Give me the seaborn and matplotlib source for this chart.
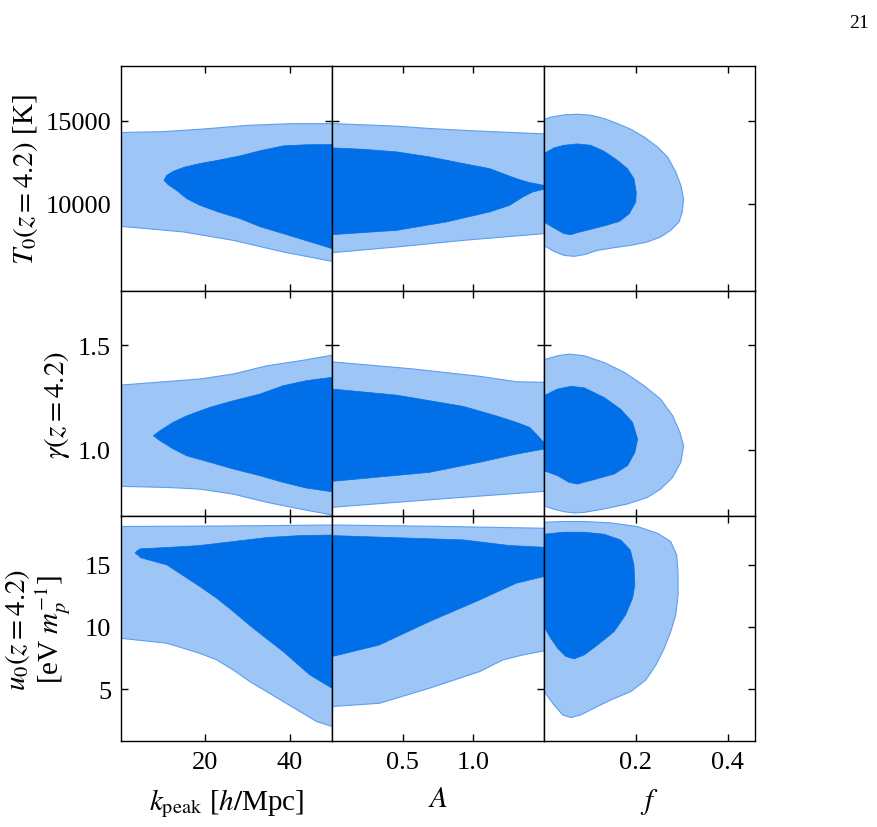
import matplotlib
matplotlib.use("Agg")
import matplotlib.pyplot as plt
import seaborn as sns

# === DATA: 68% / 95% credible-region outlines ===
# columns: k_peak, A, f   rows: T0, gamma, u0
col_labels = [r"$k_{\rm peak}$ [$h/$Mpc]", r"$A$", r"$f$"]
row_labels = [r"$T_0(z=4.2)$ [K]", r"$\gamma(z=4.2)$", "$u_0(z=4.2)$\n[eV $m_p^{-1}$]"]
col_limits = [(0, 50), (0, 1.5), (0, 0.46)]
row_limits = [(4700, 18300), (0.682, 1.757), (0.8, 18.9)]
col_ticks = [[20, 40], [0.5, 1.0], [0.2, 0.4]]
col_ticklabels = [["20", "40"], ["0.5", "1.0"], ["0.2", "0.4"]]
row_ticks = [[10000, 15000], [1.0, 1.5], [5, 10, 15]]
row_ticklabels = [["10000", "15000"], ["1.0", "1.5"], ["5", "10", "15"]]

# T0 vs k_peak
k_T0_outer_x = [-1, 0, 10, 19, 30, 40, 51, 51, 50, 38.4, 26.6, 14.8, 0, -1]
k_T0_outer_y = [14300, 14300, 14350, 14500, 14730, 14830, 14840,
                6450, 6510, 7080, 7780, 8290, 8630, 8630]
k_T0_inner_x = [10.2, 10.9, 12.4, 15, 18.7, 23, 28.2, 33, 38.4, 44, 51,
                51, 50, 44, 38.4, 33, 28.2, 23, 18.7, 15.6, 13.2, 11.2]
k_T0_inner_y = [11410, 11712, 11954, 12200, 12420, 12620, 12885, 13200, 13490, 13560, 13570,
                7250, 7278, 7750, 8185, 8600, 9093, 9500, 9900, 10300, 10805, 11150]

# T0 vs A
A_T0_outer_x = [-0.05, 0, 0.46, 0.69, 1.0, 1.5, 1.55, 1.55, 1.5, 0.93, 0.456, 0, -0.05]
A_T0_outer_y = [14840, 14840, 14680, 14540, 14400, 14216, 14200,
                8190, 8185, 7780, 7380, 7036, 7036]
A_T0_inner_x = [-0.05, 0, 0.22, 0.456, 0.69, 0.93, 1.116, 1.21, 1.305, 1.40, 1.5,
                1.5, 1.423, 1.352, 1.258, 1.116, 0.81, 0.456, 0, -0.05]
A_T0_inner_y = [13370, 13370, 13285, 13128, 12825, 12420, 12117, 11815, 11512, 11270, 11107,
                10866, 10708, 10405, 9897, 9498, 8893, 8385, 8125, 8125]

# T0 vs f
f_T0_outer_x = [-0.01, 0.0, 0.015, 0.044, 0.073, 0.102, 0.131, 0.160, 0.189, 0.218, 0.247,
                0.269, 0.287, 0.298, 0.304, 0.301, 0.294, 0.276, 0.254, 0.225, 0.189,
                0.153, 0.117, 0.088, 0.066, 0.044, 0.022, 0.0, -0.01]
f_T0_outer_y = [15082, 15082, 15223, 15364, 15404, 15344, 15142, 14840, 14497, 14033, 13428,
                12823, 11916, 11109, 10302, 9496, 8891, 8387, 7984, 7681, 7479,
                7338, 7177, 6915, 6814, 6874, 7116, 7479, 7479]
f_T0_inner_x = [-0.01, 0.0, 0.022, 0.044, 0.073, 0.102, 0.131, 0.160, 0.182, 0.196, 0.201,
                0.200, 0.186, 0.165, 0.136, 0.102, 0.073, 0.059, 0.044, 0.022, 0.0, -0.01]
f_T0_inner_y = [13025, 13025, 13368, 13529, 13610, 13529, 13166, 12621, 12117, 11512, 10706,
                10101, 9395, 8931, 8689, 8447, 8246, 8125, 8185, 8528, 8891, 8891]

# gamma vs k_peak
k_g_outer_x = [-1, 0, 18.7, 26.6, 34.5, 42.4, 50, 51, 51, 50, 42.4, 34.5, 26.6, 18.7, 10.9, 0, -1]
k_g_outer_y = [1.309, 1.309, 1.338, 1.362, 1.401, 1.425, 1.452, 1.455,
               0.685, 0.688, 0.717, 0.749, 0.788, 0.812, 0.820, 0.825, 0.825]
k_g_inner_x = [7.7, 9.3, 12.3, 15.6, 21.1, 26.6, 32.9, 38.4, 43.9, 51,
               51, 43.9, 38.4, 32.9, 26.6, 21.1, 15.6, 12.3, 9.3]
k_g_inner_y = [1.067, 1.091, 1.130, 1.162, 1.203, 1.234, 1.266, 1.306, 1.330, 1.349,
               0.796, 0.817, 0.844, 0.876, 0.908, 0.940, 0.971, 1.005, 1.043]

# gamma vs A
A_g_outer_x = [-0.05, 0, 0.574, 1.045, 1.305, 1.5, 1.55, 1.55, 1.5, 0.93, 0.456, 0, -0.05]
A_g_outer_y = [1.420, 1.420, 1.386, 1.351, 1.325, 1.322, 1.322,
               0.801, 0.801, 0.773, 0.749, 0.725, 0.725]
A_g_inner_x = [-0.05, 0, 0.456, 0.93, 1.163, 1.305, 1.40, 1.446, 1.5,
               1.5, 1.305, 1.045, 0.689, 0, -0.05]
A_g_inner_y = [1.29, 1.29, 1.261, 1.207, 1.162, 1.131, 1.107, 1.075, 1.035,
               1.003, 0.979, 0.940, 0.892, 0.849, 0.849]

# gamma vs f
f_g_outer_x = [-0.01, 0.0, 0.030, 0.055, 0.088, 0.131, 0.175, 0.218, 0.254, 0.280, 0.296,
               0.304, 0.298, 0.280, 0.254, 0.225, 0.182, 0.131, 0.088, 0.066, 0.044, 0.022,
               0.0, -0.01]
f_g_outer_y = [1.430, 1.430, 1.449, 1.457, 1.449, 1.417, 1.370, 1.306, 1.242, 1.163, 1.083,
               1.019, 0.940, 0.868, 0.812, 0.772, 0.741, 0.717, 0.701, 0.698, 0.704, 0.716,
               0.732, 0.732]
f_g_inner_x = [-0.01, 0.0, 0.030, 0.059, 0.088, 0.131, 0.167, 0.193, 0.204, 0.198, 0.182,
               0.153, 0.109, 0.073, 0.055, 0.030, 0.0, -0.01]
f_g_inner_y = [1.258, 1.258, 1.290, 1.303, 1.296, 1.250, 1.194, 1.131, 1.051, 0.987, 0.924,
               0.884, 0.857, 0.836, 0.844, 0.876, 0.900, 0.900]

# u0 vs k_peak
k_u_outer_x = [-1, 0, 25, 50, 51, 51, 50, 46.3, 42.4, 38.4, 34.5, 30.5, 26.6, 22.7, 18.7, 10.9, 0, -1]
k_u_outer_y = [18.08, 18.08, 18.12, 18.2, 18.2,
               1.95, 1.99, 2.39, 3.19, 4.0, 4.80, 5.61, 6.54, 7.35, 7.88, 8.69, 9.09, 9.09]
k_u_inner_x = [3.4, 3.8, 4.6, 10.9, 18.7, 26.6, 34.5, 42.4, 51,
               51, 44.7, 38.4, 31.3, 26.6, 22.7, 18.7, 10.9, 4.6, 4.2]
k_u_inner_y = [15.93, 16.11, 16.28, 16.39, 16.55, 16.87, 17.19, 17.35, 17.40,
               4.85, 6.14, 8.02, 9.9, 11.24, 12.31, 13.25, 14.99, 15.58, 15.74]

# u0 vs A
A_u_outer_x = [-0.05, 0, 0.7, 1.5, 1.55, 1.55, 1.5, 1.352, 1.21, 1.045, 0.689, 0.335, 0, -0.05]
A_u_outer_y = [18.2, 18.2, 18.1, 17.94, 17.94, 8.07, 8.07, 7.75, 7.35, 6.41, 5.07, 3.86, 3.6, 3.6]
A_u_inner_x = [-0.05, 0, 0.93, 1.257, 1.5, 1.55, 1.55, 1.5, 1.305, 1.045, 0.689, 0.40, 0.335, 0, -0.05]
A_u_inner_y = [17.35, 17.35, 17.0, 16.55, 16.41, 16.41, 14.05, 14.05, 13.52, 12.17, 10.43, 8.9, 8.55, 7.62, 7.62]

# u0 vs f
f_u_outer_x = [-0.01, 0.0, 0.044, 0.088, 0.146, 0.204, 0.247, 0.276, 0.289, 0.292, 0.292,
               0.287, 0.276, 0.262, 0.244, 0.222, 0.189, 0.146, 0.109, 0.080, 0.059, 0.041,
               0.022, 0.0, -0.01]
f_u_outer_y = [18.42, 18.42, 18.48, 18.48, 18.37, 18.07, 17.54, 16.87, 15.79, 14.19, 12.58,
               10.97, 9.63, 8.29, 6.95, 5.74, 4.80, 4.13, 3.46, 2.92, 2.71, 2.92,
               3.73, 4.85, 4.85]
f_u_inner_x = [-0.01, 0.0, 0.044, 0.088, 0.131, 0.167, 0.188, 0.196, 0.198, 0.193, 0.178,
               0.153, 0.117, 0.088, 0.066, 0.048, 0.030, 0.015, 0.0, -0.01]
f_u_inner_y = [17.46, 17.46, 17.62, 17.62, 17.46, 17.00, 16.20, 14.99, 13.38, 12.31, 10.97,
               9.63, 8.55, 7.75, 7.43, 7.62, 8.29, 9.09, 10.03, 10.03]

panels = [
    [((k_T0_outer_x, k_T0_outer_y), (k_T0_inner_x, k_T0_inner_y)),
     ((A_T0_outer_x, A_T0_outer_y), (A_T0_inner_x, A_T0_inner_y)),
     ((f_T0_outer_x, f_T0_outer_y), (f_T0_inner_x, f_T0_inner_y))],
    [((k_g_outer_x, k_g_outer_y), (k_g_inner_x, k_g_inner_y)),
     ((A_g_outer_x, A_g_outer_y), (A_g_inner_x, A_g_inner_y)),
     ((f_g_outer_x, f_g_outer_y), (f_g_inner_x, f_g_inner_y))],
    [((k_u_outer_x, k_u_outer_y), (k_u_inner_x, k_u_inner_y)),
     ((A_u_outer_x, A_u_outer_y), (A_u_inner_x, A_u_inner_y)),
     ((f_u_outer_x, f_u_outer_y), (f_u_inner_x, f_u_inner_y))],
]

# === STYLE ===
sns.set_style("ticks")
plt.rcParams['font.family'] = ['Liberation Serif', 'DejaVu Serif']
plt.rcParams['mathtext.fontset'] = 'stix'
plt.rcParams['axes.linewidth'] = 1.0
for key in ['text.color', 'axes.labelcolor', 'xtick.color', 'ytick.color',
            'xtick.labelcolor', 'ytick.labelcolor', 'axes.edgecolor']:
    plt.rcParams[key] = 'black'

tick_fs = 19
label_fs = 21
outer_face = '#9dc5f5'
outer_edge = '#5e9ef0'
inner_face = '#006fe8'

fig, axes = plt.subplots(3, 3, figsize=(8.78, 8.28), dpi=100)
fig.subplots_adjust(left=0.1375, right=0.8603, top=0.9187, bottom=0.1035, wspace=0, hspace=0)

for r in range(3):
    for c in range(3):
        ax = axes[r][c]
        (ox, oy), (ix, iy) = panels[r][c]
        ax.fill(ox, oy, facecolor=outer_face, edgecolor=outer_edge, lw=0.8, zorder=1)
        ax.fill(ix, iy, facecolor=inner_face, edgecolor=inner_face, lw=0.5, zorder=2)
        ax.set_xlim(*col_limits[c])
        ax.set_ylim(*row_limits[r])
        ax.set_xticks(col_ticks[c])
        ax.set_yticks(row_ticks[r])
        ax.tick_params(direction='in', top=True, right=True, length=5, width=1.0,
                       labelsize=tick_fs, pad=7, color='black')
        if r == 2:
            ax.set_xticklabels(col_ticklabels[c], fontsize=tick_fs)
            ax.set_xlabel(col_labels[c], fontsize=label_fs)
            ax.xaxis.set_label_coords(0.5, -0.2)
            ax.xaxis.label.set_va('top')
        else:
            ax.set_xticklabels([])
        if c == 0:
            ax.set_yticklabels(row_ticklabels[r], fontsize=tick_fs)
            ax.set_ylabel(row_labels[r], fontsize=label_fs, linespacing=1.0)
        else:
            ax.set_yticklabels([])

axes[0][0].yaxis.set_label_coords(-0.38, 0.5)
axes[1][0].yaxis.set_label_coords(-0.23, 0.5)
axes[2][0].yaxis.set_label_coords(-0.23, 0.5)

fig.text(0.99, 0.972, "21", fontsize=14, ha='right', va='center')

plt.savefig("out.png", dpi=100)
plt.close()
